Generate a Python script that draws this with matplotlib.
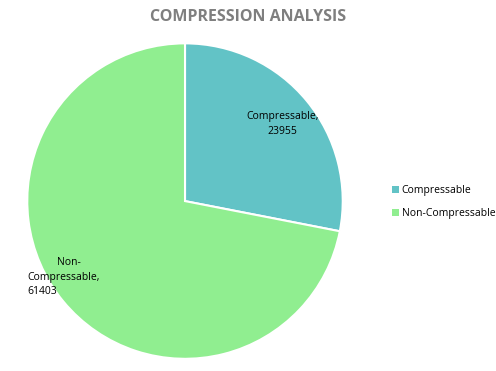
import matplotlib
matplotlib.use("Agg")
import matplotlib.pyplot as plt
from matplotlib.patches import Patch

categories = ["Compressable", "Non-Compressable"]
values = [23955, 61403]
colors = ["#62C3C6", "#90EE90"]

fig = plt.figure(figsize=(4.96, 3.71), dpi=100)
fig.patch.set_facecolor("white")

# pie axes: center ~ (185, 201) px, radius ~158 px
ax = fig.add_axes([0.373 - 0.318, 0.458 - 0.4255, 0.636, 0.851])
wedges, _ = ax.pie(values, colors=colors, startangle=90, counterclock=False,
                   wedgeprops=dict(edgecolor="white", linewidth=1.5))
ax.set_xlim(-1, 1)
ax.set_ylim(-1, 1)
ax.set_aspect("equal")

lbl = dict(fontsize=7.5, family="Open Sans")
ax.text(0.62, 0.49, f"{categories[0]},\n{values[0]}", ha="center", va="center",
        linespacing=1.45, **lbl)
# data label of the big slice wraps like the reference
ax.text(-0.81, -0.39, "Non-", ha="left", va="center", **lbl)
ax.text(-1.0, -0.485, "Compressable,", ha="left", va="center", **lbl)
ax.text(-1.0, -0.575, f"{values[1]}", ha="left", va="center", **lbl)

fig.text(0.5, 0.955, "COMPRESSION ANALYSIS", ha="center", va="center",
         fontsize=11.5, fontweight="bold", color="#7F7F7F", family="Open Sans")

handles = [Patch(facecolor=c, edgecolor="none") for c in colors]
fig.legend(handles, categories, loc="center left", bbox_to_anchor=(0.772, 0.455),
           frameon=False, handlelength=0.6, handleheight=0.6,
           handletextpad=0.3, labelspacing=1.2, prop={"family": "Open Sans", "size": 7.5})

fig.savefig("out.png", dpi=100)
